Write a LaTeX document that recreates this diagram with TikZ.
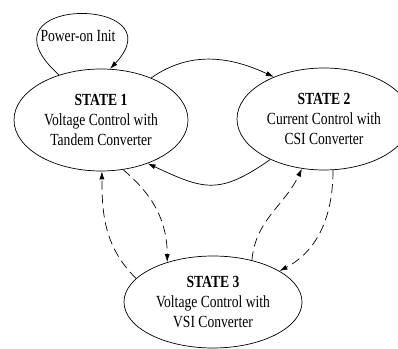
\documentclass[tikz,border=0pt]{standalone}
\usepackage{fontspec}
\setmainfont{Liberation Serif}[FakeStretch=0.8]
\usetikzlibrary{arrows.meta,positioning,shapes.geometric}

\begin{document}
\begin{tikzpicture}[>={Latex[length=8pt,width=5pt]},x=1pt,y=1pt,
    state/.style={ellipse,draw,line width=.7pt,minimum width=174pt,
      minimum height=102pt,inner sep=0pt,align=center,
      font=\fontsize{17}{20}\selectfont},
    trans/.style={->,line width=.7pt},
    back/.style={trans,dash pattern=on 9pt off 5pt}]
  \useasboundingbox (0,0) rectangle (398,348);
  \clip (0,0) rectangle (398,348);
  % the three states
  \node[state] (s1) at (101,228) {\textbf{STATE 1}\\Voltage Control with\\Tandem Converter};
  \node[state] (s2) at (324,229) {\textbf{STATE 2}\\Current Control with\\CSI Converter};
  \node[state,minimum width=178pt,minimum height=92pt] (s3) at (213,46)
    {\textbf{STATE 3}\\Voltage Control with\\VSI Converter};
  % start-up loop
  \node[font=\fontsize{17}{20}\selectfont] (init) at (78,312) {Power-on Init};
  \draw[trans] (s1.133) .. controls (-30,353) and (180,353) .. (s1.80);
  % solid transitions between 1 and 2
  \draw[trans] (s1.40) to[out=35,in=155] (s2.140);
  \draw[trans] (s2.217) to[out=215,in=-25,looseness=1.3] (s1.-43);
  % dashed transitions to and from 3
  \draw[back] (s1.-66) to[out=-40,in=90] (s3.139);
  \draw[back] (s3.163) to[out=135,in=-90] (s1.-89);
  \draw[back] (s2.-80) to[out=-90,in=28] (s3.25);
  \draw[back] (s3.47) to[out=85,in=-115] (s2.-114);
\end{tikzpicture}
\end{document}
